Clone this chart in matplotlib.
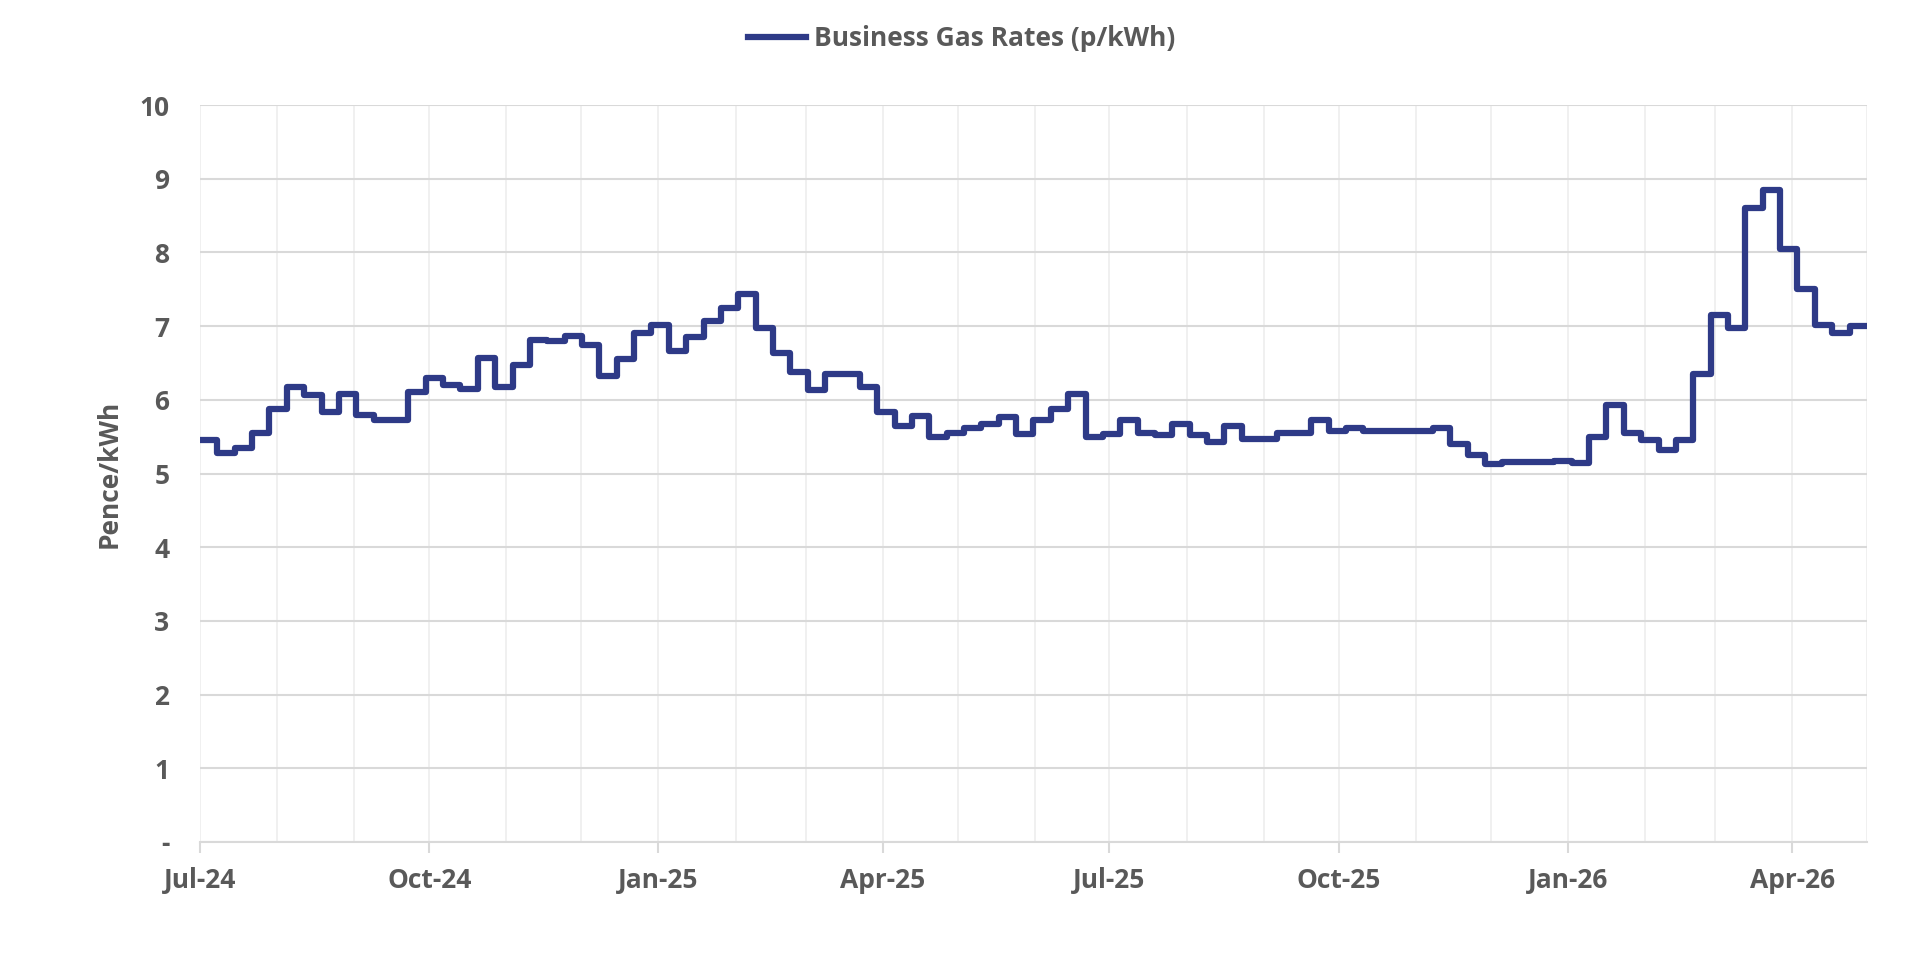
import matplotlib
matplotlib.use("Agg")
import matplotlib.pyplot as plt
import matplotlib.dates as mdates
import numpy as np
import pandas as pd

# weekly business gas rates, p/kWh
rates = [5.45, 5.28, 5.35, 5.55, 5.87, 6.18, 6.07, 5.83, 6.08, 5.80, 5.72, 5.72,
         6.10, 6.30, 6.20, 6.15, 6.57, 6.18, 6.47, 6.81, 6.80, 6.87, 6.75, 6.32,
         6.55, 6.90, 7.02, 6.66, 6.85, 7.07, 7.25, 7.44, 6.97, 6.63, 6.38, 6.13,
         6.35, 6.35, 6.17, 5.83, 5.65, 5.78, 5.50, 5.55, 5.62, 5.67, 5.77, 5.53,
         5.72, 5.87, 6.08, 5.50, 5.53, 5.72, 5.55, 5.52, 5.67, 5.52, 5.43, 5.65,
         5.47, 5.47, 5.55, 5.55, 5.72, 5.58, 5.62, 5.57, 5.57, 5.57, 5.58, 5.62,
         5.40, 5.25, 5.13, 5.15, 5.16, 5.15, 5.17, 5.14, 5.50, 5.93, 5.55, 5.45,
         5.32, 5.45, 6.35, 7.15, 6.97, 8.60, 8.85, 8.05, 7.50, 7.02, 6.90, 7.00]
dates = pd.date_range("2024-07-01", "2026-04-24", periods=len(rates))

# repeat last value so the final step is drawn
end = pd.Timestamp("2026-05-01")
x = list(dates) + [end]
y = rates + [rates[-1]]

plt.rcParams['font.family'] = ['Open Sans', 'DejaVu Sans']
grey = '#595959'

fig = plt.figure(figsize=(19.2, 9.59), dpi=100)
ax = fig.add_axes([200/1920, 1 - 842/959, 1667/1920, 737/959])

ax.step(x, y, where='post', color='#2E3A87', lw=4.5, label='Business Gas Rates (p/kWh)')

ax.set_ylim(0, 10)
ax.set_yticks(range(11))
ax.set_yticklabels(['-'] + [str(i) for i in range(1, 11)])
ax.set_xlim(pd.Timestamp("2024-07-01"), end)

ax.xaxis.set_major_locator(mdates.MonthLocator(bymonth=[1, 4, 7, 10]))
ax.xaxis.set_major_formatter(mdates.DateFormatter('%b-%y'))
ax.xaxis.set_minor_locator(mdates.MonthLocator())

ax.grid(axis='y', color='#d9d9d9', lw=1.5)
ax.grid(axis='x', which='both', color='#eeeeee', lw=1.2)
ax.set_axisbelow(True)
for s in ['top', 'right', 'left']:
    ax.spines[s].set_visible(False)
ax.spines['bottom'].set_color('#d9d9d9')
ax.spines['bottom'].set_linewidth(1.5)

ax.tick_params(axis='y', length=0, pad=22, labelsize=19, labelcolor=grey)
ax.tick_params(axis='x', which='major', length=8, color='#d9d9d9', width=1.5,
               pad=10, labelsize=19, labelcolor=grey)
ax.tick_params(axis='x', which='minor', length=0)
for t in ax.get_xticklabels() + ax.get_yticklabels():
    t.set_fontweight('bold')

ax.set_ylabel('Pence/kWh', fontsize=19, color=grey, fontweight='bold', labelpad=12)

ax.legend(loc='lower center', bbox_to_anchor=(0.457, 1.04), frameon=False,
          prop={'size': 19, 'weight': 'bold'}, labelcolor=grey,
          handlelength=2.2, handletextpad=0.3)

fig.savefig('out.png', dpi=100)
